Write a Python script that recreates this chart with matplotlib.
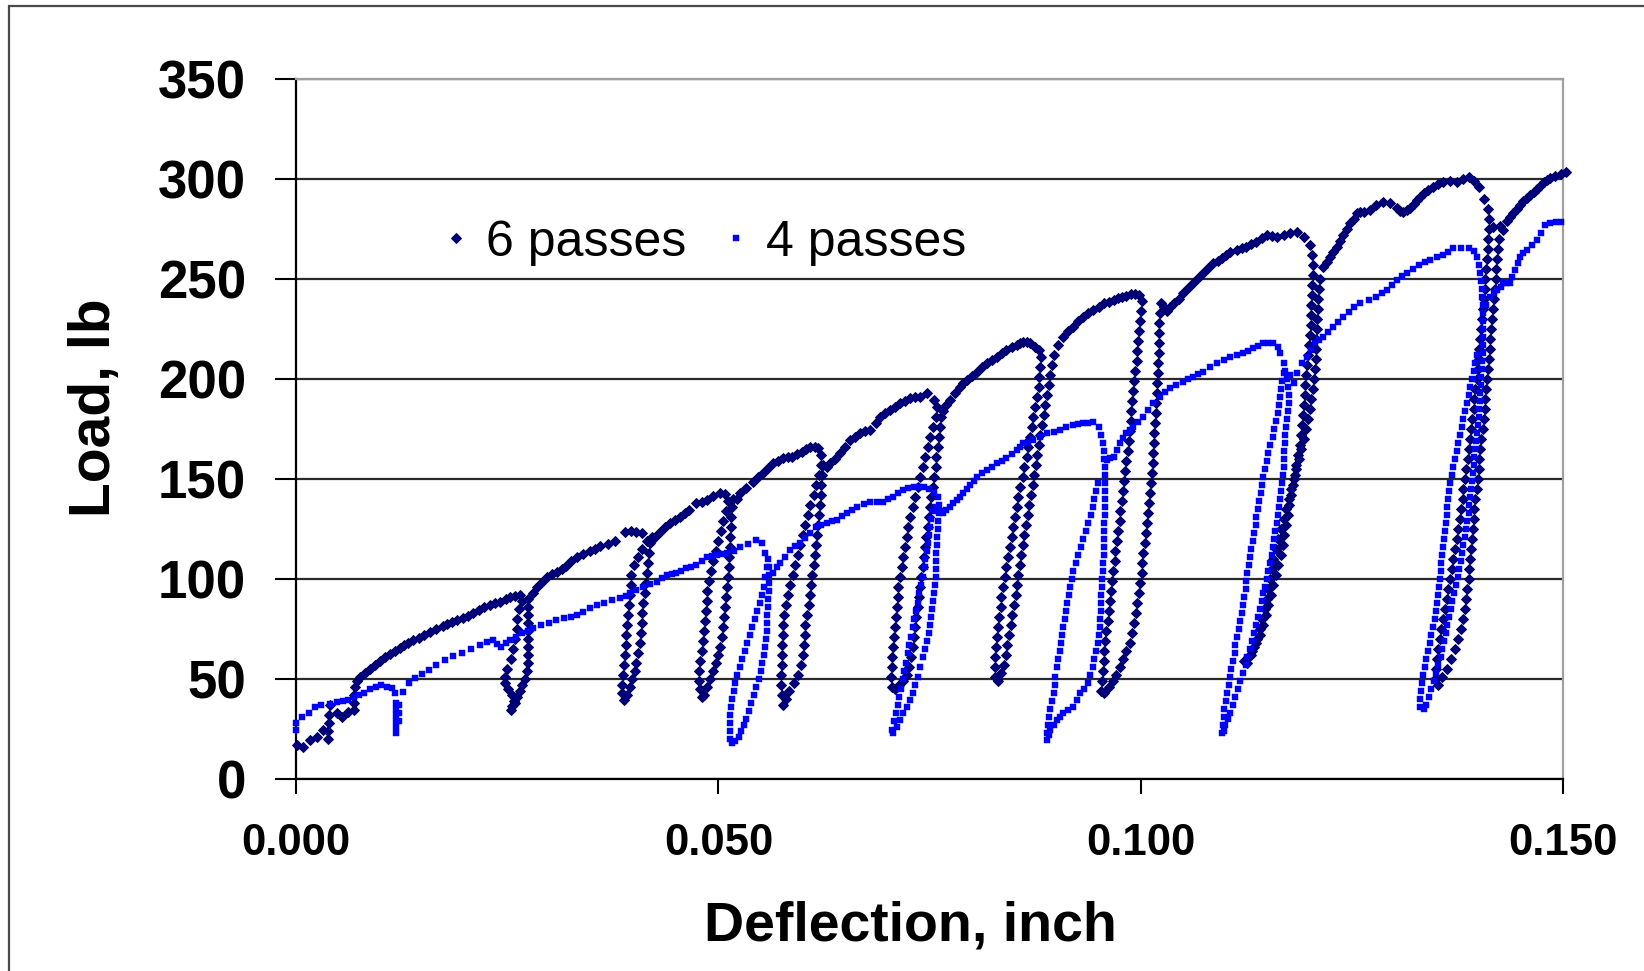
import matplotlib.pyplot as plt
import numpy as np
from matplotlib.patches import Rectangle
from matplotlib.ticker import FormatStrFormatter

# points, (deflection in inch, load in lb)

# 6 passes: envelope pieces and the unload / reload branch of each cycle
SIX_ENV0 = [(0.0001, 17), (0.0008, 16), (0.0017, 19.5), (0.0025, 21), (0.0032, 24.5), (0.0038, 20), (0.0038, 24),
            (0.0039, 28), (0.0039, 32), (0.0040, 37), (0.0048, 33), (0.0054, 31), (0.0062, 33.7), (0.0068, 34.5),
            (0.0068, 38), (0.0069, 42), (0.0070, 46), (0.0072, 49), (0.0076, 51), (0.0082, 53), (0.0088, 55),
            (0.0094, 57), (0.0099, 59), (0.0105, 61), (0.0111, 62.5), (0.0117, 64), (0.0123, 65.5), (0.0128, 67),
            (0.0133, 68), (0.0139, 69.5), (0.0145, 70.5), (0.0152, 72), (0.0159, 73.5), (0.0166, 75), (0.0174, 76.5),
            (0.0179, 77.5), (0.0184, 78.5), (0.0191, 79.5), (0.0198, 80.5), (0.0204, 81.5), (0.0210, 83),
            (0.0216, 84.5), (0.0222, 86), (0.0230, 87), (0.0236, 88), (0.0242, 88.7), (0.0248, 90), (0.0253, 91),
            (0.0259, 91.5), (0.0265, 92)]
SIX_C1_DOWN = [(0.0268, 89), (0.0264, 85), (0.0262, 80), (0.0261, 75), (0.0259, 70), (0.0257, 65), (0.0254, 60),
               (0.0250, 55), (0.0247, 51), (0.0247, 48), (0.0251, 45), (0.0256, 42), (0.0258, 39), (0.0256, 36.5),
               (0.0255, 34.5)]
SIX_C1_UP = [(0.0259, 38), (0.0262, 41), (0.0265, 44), (0.0268, 47), (0.0271, 50), (0.0273, 54), (0.0274, 58),
             (0.0275, 62), (0.0275, 66), (0.0275, 70), (0.0275, 74), (0.0275, 78), (0.0274, 82), (0.0274, 86),
             (0.0274, 90)]
SIX_ENV1 = [(0.0280, 93), (0.0285, 96), (0.0291, 98.5), (0.0297, 101), (0.0303, 102.5), (0.0309, 103.7),
            (0.0315, 105), (0.0320, 106.5), (0.0326, 109), (0.0332, 111), (0.0340, 112.5), (0.0348, 114),
            (0.0354, 115), (0.0360, 116.5), (0.0369, 117.5), (0.0378, 119), (0.0389, 123.5), (0.0396, 124),
            (0.0403, 123.5), (0.0409, 123)]
SIX_C2_DOWN = [(0.0415, 119), (0.0410, 115), (0.0405, 111), (0.0400, 107), (0.0397, 102), (0.0396, 97),
               (0.0395, 92), (0.0394, 87), (0.0393, 82), (0.0392, 77), (0.0391, 72), (0.0390, 67), (0.0389, 62),
               (0.0388, 57), (0.0387, 52), (0.0386, 47), (0.0386, 43), (0.0388, 39.5)]
SIX_C2_UP = [(0.0392, 42), (0.0395, 46), (0.0398, 50), (0.0401, 54), (0.0403, 58), (0.0405, 63), (0.0407, 68),
             (0.0408, 73), (0.0409, 78), (0.0410, 83), (0.0411, 88), (0.0413, 93), (0.0414, 98), (0.0416, 103),
             (0.0417, 108), (0.0418, 113), (0.0419, 118), (0.0421, 121)]
SIX_ENV2 = [(0.0425, 121), (0.0431, 123.7), (0.0437, 126), (0.0443, 127.8), (0.0449, 129.5), (0.0455, 131.2),
            (0.0460, 133), (0.0465, 134.5), (0.0473, 137.8), (0.0480, 138.5), (0.0486, 139.5), (0.0494, 141.5),
            (0.0502, 143.2), (0.0508, 142.5)]
SIX_C3_DOWN = [(0.0511, 139), (0.0509, 134), (0.0506, 129), (0.0503, 124), (0.0500, 119), (0.0497, 114),
               (0.0494, 109), (0.0491, 104), (0.0489, 99), (0.0487, 94), (0.0486, 89), (0.0485, 84), (0.0484, 79),
               (0.0483, 74), (0.0482, 69), (0.0480, 64), (0.0478, 59), (0.0477, 54), (0.0477, 49), (0.0478, 45),
               (0.0480, 41)]
SIX_C3_UP = [(0.0483, 42), (0.0486, 46), (0.0490, 50), (0.0494, 54), (0.0497, 58), (0.0500, 62), (0.0502, 66),
             (0.0504, 71), (0.0505, 76), (0.0507, 81), (0.0508, 86), (0.0509, 91), (0.0510, 96), (0.0511, 101),
             (0.0512, 106), (0.0513, 111), (0.0514, 116), (0.0514, 121), (0.0515, 126), (0.0515, 131),
             (0.0516, 136), (0.0517, 140)]
SIX_ENV3 = [(0.0522, 140), (0.0526, 142.8), (0.0533, 145.5), (0.0541, 148.7), (0.0547, 151), (0.0553, 152.8),
            (0.0559, 155.5), (0.0565, 157.8), (0.0571, 159), (0.0577, 160.3), (0.0582, 161), (0.0587, 161.2),
            (0.0593, 162.5), (0.0599, 163.7), (0.0604, 165), (0.0609, 166.2), (0.0614, 166), (0.0618, 165.3)]
SIX_C4_DOWN = [(0.0621, 162), (0.0621, 157), (0.0619, 152), (0.0616, 147), (0.0613, 142), (0.0609, 137),
               (0.0606, 132), (0.0603, 127), (0.0600, 122), (0.0597, 117), (0.0594, 112), (0.0591, 107),
               (0.0588, 102), (0.0585, 97), (0.0582, 92), (0.0580, 87), (0.0578, 82), (0.0577, 77), (0.0576, 72),
               (0.0575, 67), (0.0575, 62), (0.0575, 57), (0.0574, 52), (0.0574, 47), (0.0575, 42), (0.0577, 37)]
SIX_C4_UP = [(0.0580, 40), (0.0584, 44), (0.0589, 48), (0.0594, 52), (0.0598, 57), (0.0600, 62), (0.0601, 67),
             (0.0602, 72), (0.0603, 77), (0.0605, 82), (0.0607, 87), (0.0608, 92), (0.0610, 97), (0.0611, 102),
             (0.0613, 107), (0.0614, 112), (0.0615, 117), (0.0617, 122), (0.0618, 127), (0.0619, 132),
             (0.0620, 137), (0.0621, 142), (0.0622, 147), (0.0623, 152), (0.0624, 157)]
SIX_ENV4 = [(0.0628, 156), (0.0632, 157.8), (0.0638, 160), (0.0644, 162.8), (0.0650, 166), (0.0656, 169.5),
            (0.0662, 171), (0.0668, 172.8), (0.0674, 174), (0.0680, 174.5), (0.0686, 178), (0.0691, 181.2),
            (0.0697, 183), (0.0703, 184.5), (0.0709, 186), (0.0715, 187.8), (0.0721, 189), (0.0727, 190.3),
            (0.0733, 190.8), (0.0739, 191.2), (0.0747, 192.8), (0.0755, 189.5)]
SIX_C5_DOWN = [(0.0759, 186), (0.0757, 181), (0.0754, 176), (0.0751, 171), (0.0748, 166), (0.0745, 161),
               (0.0742, 156), (0.0739, 151), (0.0736, 146), (0.0733, 141), (0.0730, 136), (0.0727, 131),
               (0.0725, 126), (0.0723, 121), (0.0721, 116), (0.0719, 111), (0.0717, 106), (0.0715, 101),
               (0.0713, 96), (0.0712, 91), (0.0711, 86), (0.0710, 81), (0.0709, 76), (0.0708, 71), (0.0707, 66),
               (0.0706, 61), (0.0705, 56), (0.0704, 51), (0.0705, 46)]
SIX_C5_UP = [(0.0709, 45), (0.0714, 47), (0.0719, 49), (0.0723, 52), (0.0726, 56), (0.0728, 61), (0.0730, 66),
             (0.0731, 71), (0.0733, 76), (0.0734, 81), (0.0736, 86), (0.0737, 91), (0.0739, 96), (0.0740, 101),
             (0.0742, 106), (0.0743, 111), (0.0745, 116), (0.0746, 121), (0.0748, 126), (0.0749, 131),
             (0.0751, 136), (0.0752, 141), (0.0754, 146), (0.0755, 151), (0.0757, 156), (0.0758, 161),
             (0.0760, 166), (0.0761, 171), (0.0762, 176), (0.0763, 181)]
SIX_ENV5 = [(0.0766, 184), (0.0770, 187), (0.0774, 189.5), (0.0780, 193), (0.0786, 196.2), (0.0790, 198),
            (0.0794, 199.5), (0.0800, 201.5), (0.0806, 203.7), (0.0812, 206), (0.0818, 207.8), (0.0824, 209.5),
            (0.0830, 211.2), (0.0836, 213), (0.0841, 214.5), (0.0847, 216), (0.0853, 217), (0.0857, 218),
            (0.0861, 218.7), (0.0865, 218.5), (0.0869, 217.8), (0.0875, 216), (0.0879, 214.5)]
SIX_C6_DOWN = [(0.0882, 211), (0.0881, 206), (0.0880, 201), (0.0879, 196), (0.0877, 191), (0.0875, 186),
               (0.0873, 181), (0.0871, 176), (0.0869, 171), (0.0867, 166), (0.0865, 161), (0.0862, 156),
               (0.0860, 151), (0.0857, 146), (0.0855, 141), (0.0853, 136), (0.0851, 131), (0.0849, 126),
               (0.0847, 121), (0.0845, 116), (0.0843, 111), (0.0841, 106), (0.0839, 101), (0.0837, 96),
               (0.0835, 91), (0.0834, 86), (0.0832, 81), (0.0831, 76), (0.0830, 71), (0.0829, 66), (0.0828, 61),
               (0.0827, 56), (0.0827, 51)]
SIX_C6_UP = [(0.0831, 49), (0.0835, 53), (0.0838, 57), (0.0840, 62), (0.0842, 67), (0.0844, 72), (0.0846, 77),
             (0.0848, 82), (0.0850, 87), (0.0852, 92), (0.0853, 97), (0.0855, 102), (0.0857, 107), (0.0858, 112),
             (0.0860, 117), (0.0862, 122), (0.0864, 127), (0.0866, 132), (0.0868, 137), (0.0870, 142),
             (0.0872, 147), (0.0874, 152), (0.0876, 157), (0.0877, 162), (0.0879, 167), (0.0881, 172),
             (0.0883, 177), (0.0885, 182), (0.0887, 187), (0.0889, 192), (0.0891, 197), (0.0893, 202),
             (0.0895, 207)]
SIX_ENV6 = [(0.0897, 212), (0.0902, 217), (0.0908, 221.2), (0.0914, 224), (0.0920, 226.2), (0.0926, 229),
            (0.0932, 231.2), (0.0938, 233), (0.0944, 234.5), (0.0950, 236), (0.0956, 237.8), (0.0962, 238.5),
            (0.0968, 239.5), (0.0973, 240.5), (0.0978, 241), (0.0983, 241.5), (0.0988, 242.5), (0.0993, 242.5),
            (0.0998, 242)]
SIX_C7_DOWN = [(0.1001, 239), (0.1000, 234), (0.0999, 229), (0.0998, 224), (0.0997, 219), (0.0996, 214),
               (0.0995, 209), (0.0993, 204), (0.0992, 199), (0.0991, 194), (0.0990, 189), (0.0989, 184),
               (0.0988, 179), (0.0987, 174), (0.0986, 169), (0.0985, 164), (0.0983, 159), (0.0981, 154),
               (0.0980, 149), (0.0979, 144), (0.0978, 139), (0.0976, 134), (0.0975, 129), (0.0973, 124),
               (0.0972, 119), (0.0970, 114), (0.0969, 109), (0.0967, 104), (0.0966, 99), (0.0965, 94),
               (0.0963, 89), (0.0962, 84), (0.0961, 79), (0.0959, 74), (0.0958, 69), (0.0957, 64), (0.0956, 59),
               (0.0955, 54), (0.0954, 49), (0.0953, 44)]
SIX_C7_UP = [(0.0957, 43), (0.0962, 46), (0.0967, 49), (0.0971, 52), (0.0975, 56), (0.0979, 60), (0.0983, 64),
             (0.0987, 68), (0.0990, 73), (0.0992, 78), (0.0994, 83), (0.0996, 88), (0.0998, 93), (0.0999, 98),
             (0.1001, 103), (0.1002, 108), (0.1003, 113), (0.1005, 118), (0.1006, 123), (0.1007, 128),
             (0.1009, 133), (0.1010, 138), (0.1011, 143), (0.1012, 148), (0.1013, 153), (0.1014, 158),
             (0.1015, 163), (0.1016, 168), (0.1016, 173), (0.1017, 178), (0.1018, 183), (0.1018, 188),
             (0.1019, 193), (0.1019, 198), (0.1020, 203), (0.1020, 208), (0.1021, 213), (0.1021, 218),
             (0.1022, 223), (0.1022, 228), (0.1023, 233), (0.1024, 238)]
SIX_ENV7 = [(0.1027, 236), (0.1031, 234), (0.1035, 236), (0.1039, 237.8), (0.1045, 240), (0.1050, 242.8),
            (0.1056, 245.5), (0.1062, 247.8), (0.1068, 250.5), (0.1074, 252.8), (0.1080, 255.5), (0.1086, 257.8),
            (0.1091, 259), (0.1096, 260.3), (0.1101, 262), (0.1106, 263.7), (0.1114, 264.5), (0.1120, 265.5),
            (0.1125, 266.2), (0.1131, 267.5), (0.1137, 268.7), (0.1143, 270.5), (0.1149, 272), (0.1155, 271.5),
            (0.1161, 271.2), (0.1169, 272), (0.1177, 272.8), (0.1185, 273.7), (0.1193, 271.2)]
SIX_C8_DOWN = [(0.1200, 267), (0.1203, 262), (0.1204, 257), (0.1204, 252), (0.1203, 247), (0.1203, 242),
               (0.1202, 237), (0.1202, 232), (0.1201, 227), (0.1200, 222), (0.1199, 217), (0.1198, 212),
               (0.1197, 207), (0.1196, 202), (0.1195, 197), (0.1194, 192), (0.1193, 187), (0.1192, 182),
               (0.1191, 177), (0.1190, 172), (0.1188, 167), (0.1186, 162), (0.1184, 157), (0.1182, 152),
               (0.1180, 147), (0.1178, 142), (0.1176, 137), (0.1174, 132), (0.1172, 127), (0.1170, 122),
               (0.1168, 117), (0.1166, 112), (0.1163, 107), (0.1160, 102), (0.1157, 97), (0.1154, 92),
               (0.1151, 87), (0.1148, 82), (0.1145, 77), (0.1141, 72), (0.1137, 68), (0.1132, 64), (0.1127, 61),
               (0.1122, 59)]
SIX_C8_UP = [(0.1126, 58), (0.1130, 62), (0.1134, 66), (0.1138, 70), (0.1141, 75), (0.1144, 80), (0.1147, 85),
             (0.1149, 90), (0.1151, 95), (0.1153, 100), (0.1155, 105), (0.1157, 110), (0.1160, 115),
             (0.1163, 120), (0.1166, 125), (0.1169, 130), (0.1172, 135), (0.1175, 140), (0.1178, 145),
             (0.1181, 150), (0.1184, 155), (0.1187, 160), (0.1190, 165), (0.1193, 170), (0.1196, 175),
             (0.1198, 180), (0.1200, 185), (0.1202, 190), (0.1204, 195), (0.1205, 200), (0.1206, 205),
             (0.1207, 210), (0.1208, 215), (0.1208, 220), (0.1209, 225), (0.1209, 230), (0.1210, 235),
             (0.1210, 240), (0.1211, 245), (0.1212, 250)]
SIX_ENV8 = [(0.1216, 256), (0.1220, 258.5), (0.1224, 261.2), (0.1228, 263.5), (0.1232, 266.2), (0.1236, 269),
            (0.1240, 272), (0.1244, 275), (0.1248, 277.8), (0.1252, 280), (0.1256, 282.8), (0.1260, 283.3),
            (0.1264, 283.7), (0.1271, 284.5), (0.1279, 287), (0.1287, 288.7), (0.1295, 287.8), (0.1303, 285.3),
            (0.1307, 284), (0.1311, 283.7), (0.1315, 284.5), (0.1319, 285.3), (0.1323, 287.5), (0.1327, 289.5),
            (0.1331, 291), (0.1335, 292.8), (0.1340, 294.5), (0.1346, 296.2), (0.1352, 297.5), (0.1358, 298.7),
            (0.1366, 299), (0.1374, 298.7), (0.1381, 300), (0.1388, 301), (0.1395, 299), (0.1400, 296)]
SIX_C9_DOWN = [(0.1406, 290), (0.1411, 285), (0.1412, 280), (0.1412, 275), (0.1411, 270), (0.1411, 265),
               (0.1410, 260), (0.1409, 255), (0.1408, 250), (0.1407, 245), (0.1406, 240), (0.1405, 235),
               (0.1404, 230), (0.1403, 225), (0.1402, 220), (0.1401, 215), (0.1400, 210), (0.1399, 205),
               (0.1398, 200), (0.1396, 195), (0.1395, 190), (0.1394, 185), (0.1392, 180), (0.1391, 175),
               (0.1390, 170), (0.1388, 165), (0.1387, 160), (0.1385, 155), (0.1384, 150), (0.1382, 145),
               (0.1381, 140), (0.1379, 135), (0.1378, 130), (0.1376, 125), (0.1374, 120), (0.1372, 115),
               (0.1370, 110), (0.1368, 105), (0.1366, 100), (0.1364, 95), (0.1362, 90), (0.1360, 85),
               (0.1358, 80), (0.1356, 75), (0.1354, 70), (0.1352, 65), (0.1351, 60), (0.1350, 55), (0.1348, 50)]
SIX_C9_UP = [(0.1352, 47), (0.1357, 51), (0.1362, 55), (0.1367, 60), (0.1372, 65), (0.1376, 70), (0.1379, 75),
             (0.1382, 80), (0.1384, 85), (0.1385, 90), (0.1386, 95), (0.1388, 100), (0.1389, 105), (0.1390, 110),
             (0.1391, 115), (0.1392, 120), (0.1393, 125), (0.1394, 130), (0.1395, 135), (0.1396, 140),
             (0.1398, 145), (0.1399, 150), (0.1400, 155), (0.1401, 160), (0.1402, 165), (0.1403, 170),
             (0.1405, 175), (0.1406, 180), (0.1407, 185), (0.1408, 190), (0.1409, 195), (0.1410, 200),
             (0.1411, 205), (0.1412, 210), (0.1413, 215), (0.1414, 220), (0.1415, 225), (0.1416, 230),
             (0.1417, 235), (0.1418, 240), (0.1419, 245), (0.1420, 250), (0.1421, 255), (0.1422, 260),
             (0.1423, 265), (0.1424, 270)]
SIX_ENV9 = [(0.1417, 276), (0.1425, 276.5), (0.1429, 274.5), (0.1433, 279), (0.1437, 281), (0.1441, 283),
            (0.1445, 285), (0.1449, 287), (0.1453, 289), (0.1457, 290.5), (0.1461, 292), (0.1465, 293.5),
            (0.1469, 295), (0.1473, 296.5), (0.1477, 298.5), (0.1481, 299.5), (0.1485, 300.5), (0.1490, 301.5),
            (0.1497, 302.5), (0.1504, 303.5)]

# 4 passes
FOUR_ENV0 = [(0.0000, 24.5), (0.0000, 28), (0.0007, 31), (0.0015, 33), (0.0022, 36), (0.0030, 37), (0.0040, 37.5),
             (0.0048, 38.7), (0.0055, 39), (0.0062, 39.5), (0.0068, 41), (0.0074, 42), (0.0080, 43), (0.0088, 45),
             (0.0095, 46), (0.0101, 47), (0.0108, 46), (0.0114, 45.3), (0.0117, 42.8), (0.0118, 38), (0.0118, 35),
             (0.0118, 32), (0.0118, 29), (0.0118, 26), (0.0118, 23), (0.0122, 37), (0.0122, 33), (0.0122, 29),
             (0.0127, 43.7), (0.0134, 48), (0.0141, 50.3), (0.0149, 52.5), (0.0157, 54.5), (0.0166, 57),
             (0.0176, 59.5), (0.0186, 61.3), (0.0196, 62.8), (0.0207, 65), (0.0218, 67), (0.0226, 68.5),
             (0.0233, 69.5), (0.0238, 67.5), (0.0243, 66.2), (0.0248, 68), (0.0253, 69.5), (0.0260, 71),
             (0.0267, 72.8), (0.0274, 74), (0.0281, 75.3), (0.0290, 76.8), (0.0299, 78.2), (0.0308, 79.3),
             (0.0317, 80.3), (0.0325, 81), (0.0332, 82), (0.0340, 83.5), (0.0348, 85.3), (0.0356, 86.8),
             (0.0364, 88.2), (0.0374, 89.3), (0.0384, 90.3), (0.0390, 91.5), (0.0395, 92.8), (0.0403, 94.5),
             (0.0411, 96.2), (0.0419, 97.5), (0.0427, 98.7), (0.0433, 100.5), (0.0439, 102), (0.0445, 102.3),
             (0.0450, 102.8), (0.0456, 104), (0.0462, 105.3), (0.0468, 106), (0.0474, 107), (0.0480, 109),
             (0.0486, 111.2), (0.0492, 111.5), (0.0498, 112), (0.0504, 112.5), (0.0510, 112.8), (0.0518, 114),
             (0.0526, 116), (0.0535, 117.5), (0.0545, 119.5), (0.0551, 118), (0.0555, 113)]
FOUR_L1_DOWN = [(0.0557, 106), (0.0555, 101), (0.0554, 96), (0.0552, 92), (0.0549, 88), (0.0546, 84),
                (0.0543, 80), (0.0540, 76), (0.0537, 72), (0.0534, 68), (0.0531, 64), (0.0528, 60), (0.0525, 56),
                (0.0522, 52), (0.0520, 48), (0.0518, 44), (0.0516, 40), (0.0515, 36), (0.0514, 32), (0.0514, 28),
                (0.0514, 24), (0.0514, 20), (0.0516, 18)]
FOUR_L1_UP = [(0.0520, 19), (0.0524, 21), (0.0527, 24), (0.0530, 27), (0.0533, 30), (0.0536, 34), (0.0539, 38),
              (0.0542, 42), (0.0545, 46), (0.0548, 50), (0.0550, 54), (0.0552, 58), (0.0554, 62), (0.0555, 66),
              (0.0556, 70), (0.0557, 74), (0.0558, 78), (0.0558, 82), (0.0559, 86), (0.0559, 90), (0.0560, 94),
              (0.0560, 98), (0.0560, 102), (0.0560, 106), (0.0559, 110)]
FOUR_ENV1 = [(0.0565, 103), (0.0569, 106), (0.0573, 108), (0.0579, 111), (0.0585, 114.5), (0.0591, 116.5),
             (0.0597, 118), (0.0603, 120.5), (0.0609, 123), (0.0616, 126.2), (0.0622, 127), (0.0628, 128),
             (0.0634, 128.8), (0.0640, 129.5), (0.0646, 131.5), (0.0652, 133), (0.0658, 134.5), (0.0664, 136),
             (0.0672, 137.5), (0.0680, 138.7), (0.0688, 138.7), (0.0695, 138.7), (0.0701, 140), (0.0707, 141.2),
             (0.0713, 143), (0.0719, 144.5), (0.0725, 145.5), (0.0731, 146.2), (0.0737, 146.2), (0.0743, 146.2),
             (0.0749, 145), (0.0755, 143), (0.0760, 141.2)]
FOUR_L2_DOWN = [(0.0761, 137), (0.0761, 133), (0.0760, 129), (0.0760, 125), (0.0759, 121), (0.0759, 117),
                (0.0758, 113), (0.0758, 109), (0.0757, 105), (0.0757, 101), (0.0756, 97), (0.0755, 93),
                (0.0754, 89), (0.0753, 85), (0.0752, 81), (0.0751, 77), (0.0749, 73), (0.0747, 69), (0.0745, 65),
                (0.0742, 61), (0.0739, 56), (0.0736, 51), (0.0733, 47), (0.0730, 43), (0.0727, 39.5),
                (0.0723, 36), (0.0719, 33), (0.0715, 29.5), (0.0711, 26), (0.0707, 23)]
FOUR_L2_UP = [(0.0705, 24.5), (0.0708, 29), (0.0710, 33), (0.0712, 37), (0.0714, 41), (0.0716, 45), (0.0718, 50),
              (0.0720, 54), (0.0722, 58), (0.0724, 63), (0.0726, 67), (0.0728, 71), (0.0730, 76), (0.0732, 80),
              (0.0734, 84), (0.0736, 88), (0.0738, 93), (0.0740, 97), (0.0742, 101), (0.0744, 106),
              (0.0745, 110), (0.0747, 114), (0.0748, 118), (0.0749, 122), (0.0751, 126), (0.0752, 130),
              (0.0754, 134)]
FOUR_ENV2 = [(0.0758, 136), (0.0762, 134), (0.0766, 133), (0.0770, 134.5), (0.0774, 136), (0.0778, 138),
             (0.0782, 139.5), (0.0786, 141.2), (0.0790, 143), (0.0794, 145), (0.0798, 147), (0.0802, 149),
             (0.0806, 151.2), (0.0812, 153), (0.0818, 154.5), (0.0824, 156), (0.0830, 157.8), (0.0836, 159),
             (0.0841, 160.3), (0.0847, 162.5), (0.0853, 164.5), (0.0857, 166), (0.0861, 167.8), (0.0867, 168.5),
             (0.0873, 169.5), (0.0881, 171), (0.0889, 172.8), (0.0897, 173.5), (0.0904, 174.5), (0.0912, 175.8),
             (0.0920, 177), (0.0926, 177.5), (0.0932, 177.8), (0.0938, 178.2), (0.0944, 178.7), (0.0950, 176.2)]
FOUR_L3_DOWN = [(0.0953, 172), (0.0955, 168), (0.0956, 164), (0.0957, 160), (0.0958, 156), (0.0958, 152),
                (0.0958, 148), (0.0958, 144), (0.0958, 140), (0.0958, 136), (0.0958, 132), (0.0957, 128),
                (0.0957, 124), (0.0957, 120), (0.0956, 116), (0.0956, 112), (0.0955, 108), (0.0955, 104),
                (0.0954, 100), (0.0954, 96), (0.0953, 92), (0.0953, 88), (0.0953, 84), (0.0952, 80), (0.0952, 76),
                (0.0951, 72), (0.0949, 68), (0.0947, 64), (0.0945, 60), (0.0943, 56), (0.0940, 52), (0.0937, 48),
                (0.0933, 45), (0.0928, 43), (0.0924, 39.5), (0.0920, 36), (0.0914, 34.5), (0.0908, 33),
                (0.0904, 31), (0.0901, 29.5), (0.0897, 27), (0.0893, 24.5), (0.0891, 22), (0.0889, 19.5)]
FOUR_L3_UP = [(0.0889, 23), (0.0890, 27), (0.0891, 31), (0.0893, 35), (0.0895, 39), (0.0897, 43), (0.0898, 47),
              (0.0899, 51), (0.0901, 56), (0.0902, 60), (0.0904, 64), (0.0905, 68), (0.0907, 72), (0.0908, 76),
              (0.0910, 80), (0.0911, 84), (0.0913, 88), (0.0915, 92), (0.0916, 96), (0.0918, 100), (0.0920, 104),
              (0.0923, 108), (0.0926, 112), (0.0929, 116), (0.0932, 120), (0.0935, 124), (0.0938, 128),
              (0.0941, 132), (0.0943, 136), (0.0945, 140), (0.0947, 144), (0.0949, 148)]
FOUR_ENV3 = [(0.0960, 159.5), (0.0964, 160.5), (0.0968, 161.2), (0.0972, 164.5), (0.0975, 167.8), (0.0979, 170.5),
             (0.0983, 172.8), (0.0987, 174.5), (0.0991, 176.2), (0.0997, 178.7), (0.1003, 181.2), (0.1009, 184.5),
             (0.1015, 187.8), (0.1023, 191.2), (0.1029, 193.3), (0.1035, 195.3), (0.1042, 197), (0.1050, 198.7),
             (0.1056, 200), (0.1062, 201.2), (0.1068, 202.5), (0.1074, 203.7), (0.1082, 205.8), (0.1090, 207.8),
             (0.1098, 209.5), (0.1106, 211.2), (0.1114, 212), (0.1121, 212.8), (0.1127, 214), (0.1133, 215.3),
             (0.1139, 216.5), (0.1145, 217.8), (0.1151, 217.8), (0.1157, 217.8), (0.1162, 216), (0.1165, 212.8)]
FOUR_L4_DOWN = [(0.1169, 208), (0.1171, 204), (0.1173, 200), (0.1174, 196), (0.1175, 192), (0.1175, 188),
                (0.1174, 184), (0.1173, 180), (0.1172, 176), (0.1171, 172), (0.1171, 168), (0.1170, 164),
                (0.1169, 160), (0.1169, 156), (0.1168, 152), (0.1167, 148), (0.1166, 144), (0.1165, 140),
                (0.1164, 136), (0.1162, 132), (0.1161, 128), (0.1159, 124), (0.1158, 120), (0.1156, 116),
                (0.1155, 112), (0.1153, 108), (0.1151, 104), (0.1149, 100), (0.1147, 96), (0.1145, 93),
                (0.1143, 89), (0.1141, 85), (0.1139, 81), (0.1137, 77), (0.1134, 73), (0.1132, 69), (0.1129, 65),
                (0.1126, 61), (0.1124, 57), (0.1121, 53), (0.1118, 49), (0.1115, 45), (0.1112, 41), (0.1109, 37),
                (0.1106, 33), (0.1103, 30), (0.1100, 27), (0.1098, 24)]
FOUR_L4_UP = [(0.1096, 23), (0.1097, 27), (0.1098, 31), (0.1099, 35), (0.1101, 39), (0.1102, 43), (0.1104, 47),
              (0.1106, 51), (0.1107, 55), (0.1109, 59), (0.1111, 63), (0.1112, 67), (0.1114, 71), (0.1116, 75),
              (0.1118, 79), (0.1120, 83), (0.1121, 87), (0.1122, 91), (0.1124, 95), (0.1125, 99), (0.1126, 103),
              (0.1128, 107), (0.1129, 111), (0.1131, 115), (0.1133, 119), (0.1134, 123), (0.1136, 127),
              (0.1137, 131), (0.1139, 135), (0.1140, 139), (0.1142, 143), (0.1143, 147), (0.1145, 151),
              (0.1147, 155), (0.1149, 159), (0.1151, 163), (0.1153, 167), (0.1156, 171), (0.1158, 175),
              (0.1160, 179), (0.1162, 183), (0.1164, 187), (0.1165, 191), (0.1166, 195), (0.1167, 199),
              (0.1169, 203)]
FOUR_ENV4 = [(0.1177, 202), (0.1181, 198), (0.1185, 203), (0.1191, 208), (0.1197, 211), (0.1201, 214.5),
             (0.1206, 217.8), (0.1211, 219.5), (0.1216, 221), (0.1222, 223.5), (0.1228, 226), (0.1234, 228.5),
             (0.1240, 231), (0.1246, 233.5), (0.1252, 236), (0.1260, 238), (0.1270, 239.5), (0.1279, 241),
             (0.1285, 242.8), (0.1291, 244.5), (0.1297, 247), (0.1303, 249.5), (0.1309, 251.3), (0.1315, 253),
             (0.1322, 255), (0.1329, 257), (0.1336, 258.3), (0.1343, 259.5), (0.1351, 260.8), (0.1358, 262),
             (0.1364, 263.5), (0.1370, 265.3), (0.1379, 265.3), (0.1388, 265.3), (0.1394, 264), (0.1398, 261.2)]
FOUR_L5_DOWN = [(0.1401, 257), (0.1402, 253), (0.1403, 249), (0.1404, 245), (0.1404, 241), (0.1405, 237),
                (0.1405, 233), (0.1405, 229), (0.1405, 225), (0.1405, 221), (0.1405, 217), (0.1405, 213),
                (0.1404, 209), (0.1404, 205), (0.1403, 201), (0.1403, 197), (0.1402, 193), (0.1402, 189),
                (0.1401, 185), (0.1400, 181), (0.1399, 177), (0.1398, 173), (0.1397, 169), (0.1396, 165),
                (0.1395, 161), (0.1394, 157), (0.1393, 153), (0.1392, 149), (0.1391, 145), (0.1390, 141),
                (0.1389, 137), (0.1388, 133), (0.1386, 129), (0.1385, 125), (0.1384, 121), (0.1382, 117),
                (0.1380, 113), (0.1379, 109), (0.1377, 105), (0.1375, 101), (0.1373, 97), (0.1371, 93),
                (0.1369, 89), (0.1367, 85), (0.1365, 81), (0.1363, 77), (0.1361, 73), (0.1359, 69), (0.1357, 65),
                (0.1355, 61), (0.1352, 57), (0.1350, 53), (0.1347, 49), (0.1344, 45), (0.1341, 41), (0.1338, 37),
                (0.1335, 35)]
FOUR_L5_UP = [(0.1330, 36), (0.1331, 40), (0.1332, 44), (0.1333, 48), (0.1334, 52), (0.1336, 56), (0.1338, 60),
              (0.1340, 64), (0.1342, 68), (0.1344, 72), (0.1346, 76), (0.1348, 80), (0.1350, 84), (0.1351, 88),
              (0.1352, 92), (0.1353, 96), (0.1354, 100), (0.1355, 104), (0.1356, 108), (0.1357, 112),
              (0.1358, 116), (0.1359, 120), (0.1360, 124), (0.1361, 128), (0.1362, 132), (0.1363, 136),
              (0.1364, 140), (0.1365, 144), (0.1366, 148), (0.1368, 152), (0.1370, 156), (0.1372, 160),
              (0.1374, 164), (0.1376, 168), (0.1378, 172), (0.1380, 176), (0.1382, 180), (0.1384, 184),
              (0.1386, 188), (0.1388, 192), (0.1390, 196), (0.1392, 200), (0.1394, 204), (0.1396, 208),
              (0.1398, 212)]
FOUR_ENV5 = [(0.1409, 237), (0.1413, 241), (0.1418, 243), (0.1422, 244.5), (0.1426, 246), (0.1429, 247.8),
             (0.1433, 247.8), (0.1437, 247.8), (0.1440, 251), (0.1443, 254.5), (0.1446, 258), (0.1449, 261.2),
             (0.1453, 263), (0.1457, 264.5), (0.1463, 267), (0.1469, 269.5), (0.1474, 273), (0.1479, 277),
             (0.1485, 278), (0.1492, 278.7), (0.1498, 278.7)]

X_TICKS = [0.000, 0.050, 0.100, 0.150]
Y_TICKS = [0, 50, 100, 150, 200, 250, 300, 350]


def stack(*segments):
    pts = np.array([p for seg in segments for p in seg])
    return pts[:, 0], pts[:, 1]


def main():
    plt.rcParams['font.family'] = ['Liberation Sans', 'DejaVu Sans']

    fig = plt.figure(figsize=(16.44, 9.71), dpi=100)
    ax = fig.add_axes([0.1801, 0.1977, 0.7707, 0.7209])

    six_x, six_y = stack(SIX_ENV0, SIX_C1_DOWN, SIX_C1_UP, SIX_ENV1, SIX_C2_DOWN, SIX_C2_UP,
                         SIX_ENV2, SIX_C3_DOWN, SIX_C3_UP, SIX_ENV3, SIX_C4_DOWN, SIX_C4_UP,
                         SIX_ENV4, SIX_C5_DOWN, SIX_C5_UP, SIX_ENV5, SIX_C6_DOWN, SIX_C6_UP,
                         SIX_ENV6, SIX_C7_DOWN, SIX_C7_UP, SIX_ENV7, SIX_C8_DOWN, SIX_C8_UP,
                         SIX_ENV8, SIX_C9_DOWN, SIX_C9_UP, SIX_ENV9)
    four_x, four_y = stack(FOUR_ENV0, FOUR_L1_DOWN, FOUR_L1_UP, FOUR_ENV1, FOUR_L2_DOWN, FOUR_L2_UP,
                           FOUR_ENV2, FOUR_L3_DOWN, FOUR_L3_UP, FOUR_ENV3, FOUR_L4_DOWN, FOUR_L4_UP,
                           FOUR_ENV4, FOUR_L5_DOWN, FOUR_L5_UP, FOUR_ENV5)

    ax.plot(six_x, six_y, linestyle='none', marker='D', markersize=5.6,
            markerfacecolor='#000080', markeredgecolor='#000060', markeredgewidth=0.7,
            label='6 passes', clip_on=False, zorder=3)
    ax.plot(four_x, four_y, linestyle='none', marker='s', markersize=4.8,
            markerfacecolor='#0000ff', markeredgecolor='#0000ff', markeredgewidth=0.3,
            label='4 passes', clip_on=False, zorder=4)

    ax.set_xlim(0, 0.15)
    ax.set_ylim(0, 350)
    ax.set_xticks(X_TICKS)
    ax.set_yticks(Y_TICKS)
    ax.xaxis.set_major_formatter(FormatStrFormatter('%.3f'))

    ax.grid(True, axis='y', color='#2a2a2a', linewidth=1.6)
    ax.set_axisbelow(True)
    for side in ['left', 'bottom']:
        ax.spines[side].set_color('black')
        ax.spines[side].set_linewidth(1.6)
    for side in ['top', 'right']:
        ax.spines[side].set_color('#a0a0a0')
        ax.spines[side].set_linewidth(1.6)

    ax.tick_params(axis='x', direction='out', length=11, width=1.5, pad=21, labelsize=31.5)
    ax.tick_params(axis='y', direction='out', length=15, width=1.5, pad=21, labelsize=38)
    for lbl in ax.get_xticklabels() + ax.get_yticklabels():
        lbl.set_fontweight('bold')

    ax.set_xlabel('Deflection, inch', fontsize=40, fontweight='bold', va='center')
    ax.xaxis.set_label_coords(0.485, -0.211)
    ax.set_ylabel('Load, lb', fontsize=41, fontweight='bold', va='center')
    ax.yaxis.set_label_coords(-0.159, 0.531)

    ax.legend(loc='center left', bbox_to_anchor=(0.114, 0.766), ncol=2, frameon=False,
              fontsize=36, handlelength=0.6, handletextpad=0.3, columnspacing=0.7,
              borderpad=0, borderaxespad=0)

    # thin outer frame of the original chart area
    fig.patches.append(Rectangle((9 / 1644, -0.05), 1.2, 1 - 6.5 / 971 + 0.05, transform=fig.transFigure,
                                 fill=False, edgecolor='#4a4a4a', linewidth=1.6))

    fig.savefig('out.png', dpi=100)


if __name__ == '__main__':
    main()
